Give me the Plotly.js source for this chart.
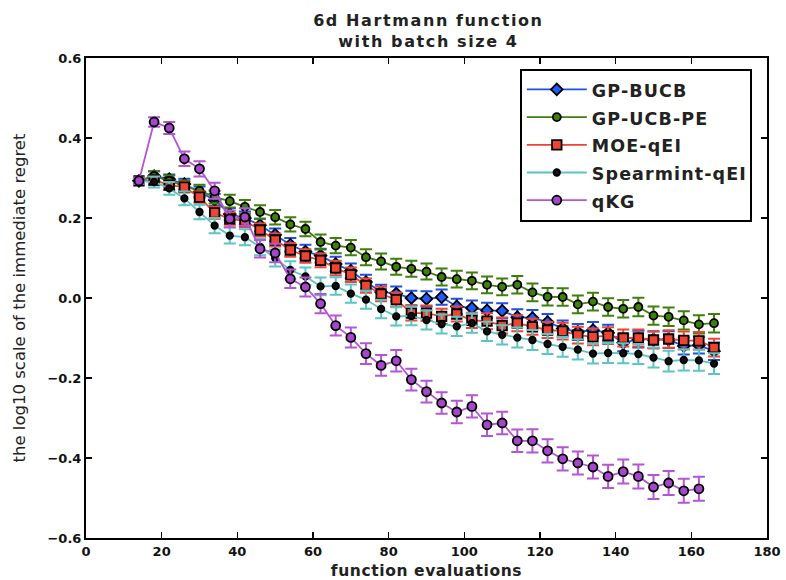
<!DOCTYPE html>
<html>
<head>
<meta charset="utf-8">
<script src="https://cdn.plot.ly/plotly-3.0.1.min.js"></script>
<style>
  html, body { margin: 0; padding: 0; background: #ffffff; }
  #chart { width: 786px; height: 580px; }
  /* wider lettering for the horizontal labels */
  #chart .gtitle { letter-spacing: 1.6px; }
  #chart .xtitle { letter-spacing: 0.6px; }
  #chart .legendtext { font-size: 17.5px !important; letter-spacing: 1.1px; }
</style>
</head>
<body>
<div id="chart"></div>
<script>
// Function evaluations (batch size 4)
const evals = [14, 18, 22, 26, 30, 34, 38, 42, 46, 50, 54, 58, 62, 66, 70, 74, 78, 82, 86, 90,
               94, 98, 102, 106, 110, 114, 118, 122, 126, 130, 134, 138, 142, 146, 150, 154, 158, 162, 166];
const evalsQKG = [14, 18, 22, 26, 30, 34, 38, 42, 46, 50, 54, 58, 62, 66, 70, 74, 78, 82, 86, 90,
                  94, 98, 102, 106, 110, 114, 118, 122, 126, 130, 134, 138, 142, 146, 150, 154, 158, 162];

// log10 immediate regret, mean per method
const gpBucb = [0.293, 0.305, 0.297, 0.285, 0.265, 0.245, 0.210, 0.200, 0.182, 0.158, 0.133, 0.116, 0.106,
                0.085, 0.068, 0.040, 0.015, 0.011, 0.000, -0.002, 0.002, -0.021, -0.025, -0.031, -0.032,
                -0.048, -0.050, -0.060, -0.076, -0.085, -0.080, -0.087, -0.112, -0.103, -0.104, -0.104,
                -0.120, -0.118, -0.133];
const gpUcbPe = [0.293, 0.305, 0.293, 0.280, 0.268, 0.252, 0.242, 0.228, 0.215, 0.202, 0.184, 0.1725, 0.140,
                 0.131, 0.126, 0.102, 0.0915, 0.078, 0.073, 0.066, 0.0525, 0.047, 0.043, 0.033, 0.028,
                 0.033, 0.014, 0.003, 0.0025, -0.016, -0.009, -0.0225, -0.027, -0.0225, -0.044, -0.047,
                 -0.056, -0.066, -0.063];
const moeQei = [0.293, 0.295, 0.282, 0.277, 0.252, 0.213, 0.198, 0.193, 0.170, 0.145, 0.120, 0.105, 0.094,
                0.075, 0.058, 0.031, 0.010, -0.004, -0.0375, -0.038, -0.046, -0.040, -0.056, -0.058, -0.069,
                -0.063, -0.072, -0.080, -0.083, -0.093, -0.097, -0.094, -0.100, -0.100, -0.105, -0.1025,
                -0.106, -0.107, -0.124];
const spearmintQei = [0.293, 0.290, 0.274, 0.249, 0.215, 0.181, 0.156, 0.152, 0.128, 0.100, 0.070, 0.054, 0.029,
                      0.030, 0.011, -0.004, -0.0275, -0.046, -0.045, -0.055, -0.065, -0.071, -0.063, -0.0835,
                      -0.092, -0.099, -0.105, -0.115, -0.122, -0.129, -0.139, -0.1375, -0.138, -0.140, -0.149,
                      -0.158, -0.155, -0.156, -0.164];
const qkg = [0.293, 0.440, 0.425, 0.348, 0.323, 0.268, 0.198, 0.2025, 0.123, 0.1125, 0.048, 0.0275, -0.014,
             -0.069, -0.0985, -0.139, -0.1685, -0.157, -0.204, -0.234, -0.2625, -0.285, -0.271, -0.317,
             -0.3125, -0.357, -0.357, -0.382, -0.402, -0.4125, -0.4225, -0.446, -0.434, -0.446, -0.4725,
             -0.4625, -0.482, -0.477];

// Standard errors
const gpBucbErr = [0.006, 0.012, 0.012, 0.013, 0.014, 0.015, 0.015, 0.016, 0.016, 0.016, 0.017, 0.017, 0.017,
                   0.018, 0.018, 0.018, 0.018, 0.018, 0.018, 0.019, 0.019, 0.019, 0.019, 0.019, 0.019,
                   0.020, 0.020, 0.020, 0.020, 0.020, 0.020, 0.020, 0.021, 0.021, 0.021, 0.021, 0.021, 0.021, 0.022];
const gpUcbPeErr = [0.006, 0.012, 0.013, 0.014, 0.015, 0.016, 0.016, 0.017, 0.017, 0.018, 0.018, 0.018, 0.019,
                    0.019, 0.019, 0.020, 0.020, 0.020, 0.020, 0.020, 0.021, 0.021, 0.021, 0.021, 0.021,
                    0.022, 0.022, 0.022, 0.022, 0.022, 0.022, 0.022, 0.022, 0.023, 0.023, 0.023, 0.023, 0.023, 0.023];
const moeQeiErr = [0.006, 0.012, 0.012, 0.013, 0.014, 0.015, 0.015, 0.016, 0.016, 0.016, 0.017, 0.017, 0.017,
                   0.018, 0.018, 0.018, 0.018, 0.018, 0.019, 0.019, 0.019, 0.019, 0.019, 0.020, 0.020,
                   0.020, 0.020, 0.020, 0.021, 0.021, 0.021, 0.021, 0.021, 0.021, 0.021, 0.022, 0.022, 0.022, 0.022];
const spearmintQeiErr = [0.006, 0.014, 0.016, 0.017, 0.018, 0.019, 0.020, 0.020, 0.021, 0.021, 0.022, 0.022, 0.022,
                         0.022, 0.023, 0.023, 0.023, 0.023, 0.023, 0.024, 0.024, 0.024, 0.024, 0.024, 0.024,
                         0.025, 0.025, 0.025, 0.025, 0.025, 0.025, 0.025, 0.025, 0.025, 0.025, 0.026, 0.026, 0.026, 0.026];
const qkgErr = [0.008, 0.012, 0.015, 0.018, 0.019, 0.020, 0.021, 0.022, 0.022, 0.023, 0.023, 0.024, 0.024,
                0.025, 0.025, 0.026, 0.026, 0.027, 0.027, 0.027, 0.027, 0.028, 0.028, 0.028, 0.028,
                0.028, 0.029, 0.029, 0.029, 0.029, 0.029, 0.029, 0.030, 0.030, 0.030, 0.030, 0.030, 0.030];

const methodNames = ['GP-BUCB', 'GP-UCB-PE', 'MOE-qEI', 'Spearmint-qEI', 'qKG'];

const FONT = 'DejaVu Sans, Verdana, sans-serif';

function series(name, xs, ys, errs, lineColor, barColor, markerColor, symbol, size) {
  return {
    type: 'scatter',
    mode: 'lines+markers',
    name: name,
    x: xs,
    y: ys,
    line: { color: lineColor, width: 1.8 },
    marker: { color: markerColor, symbol: symbol, size: size, line: { color: '#000000', width: 1.8 } },
    error_y: { type: 'data', array: errs, visible: true, color: barColor, thickness: 2, width: 6 }
  };
}

const traces = [
  series(methodNames[0], evals, gpBucb, gpBucbErr, '#1f4fe8', '#1f4fe8', '#1f5cff', 'diamond', 9),
  series(methodNames[1], evals, gpUcbPe, gpUcbPeErr, '#3f7f0c', '#3f7f0c', '#3f7f0c', 'circle', 8),
  series(methodNames[2], evals, moeQei, moeQeiErr, '#ee4433', '#ee4433', '#ee4433', 'square', 9.5),
  series(methodNames[3], evals, spearmintQei, spearmintQeiErr, '#5cc4c4', '#5cc4c4', '#111111', 'circle', 6.5),
  series(methodNames[4], evalsQKG, qkg, qkgErr, '#b455d4', '#b455d4', '#a447c8', 'circle', 9)
];

const axisCommon = {
  showgrid: false,
  zeroline: false,
  showline: true,
  linecolor: '#000000',
  linewidth: 2,
  mirror: 'ticks',
  ticks: 'inside',
  ticklen: 6,
  tickwidth: 1.5,
  tickcolor: '#000000',
  tickfont: { family: FONT, size: 13, color: '#111111', weight: 'bold' }
};

const layout = {
  width: 786,
  height: 580,
  paper_bgcolor: '#ffffff',
  plot_bgcolor: '#ffffff',
  margin: { l: 86, r: 19, t: 58, b: 42 },
  showlegend: true,
  title: {
    text: '6d Hartmann function<br>with batch size 4',
    font: { family: FONT, size: 16, color: '#222222', weight: 'bold' },
    x: 0.545, xanchor: 'center', xref: 'container',
    y: 0.955, yanchor: 'top', yref: 'container'
  },
  xaxis: Object.assign({}, axisCommon, {
    range: [0, 180],
    dtick: 20,
    tick0: 0,
    title: { text: 'function evaluations', font: { family: FONT, size: 15.5, color: '#222222', weight: 'bold' }, standoff: 9 }
  }),
  yaxis: Object.assign({}, axisCommon, {
    range: [-0.6, 0.6],
    dtick: 0.2,
    tick0: 0,
    tickformat: '.1f',
    title: { text: 'the log10 scale of the immediate regret', font: { family: FONT, size: 16.5, color: '#222222' }, standoff: 18 }
  }),
  legend: {
    x: 0.637, y: 0.978, xanchor: 'left', yanchor: 'top',
    bgcolor: '#ffffff',
    bordercolor: '#000000',
    borderwidth: 2,
    font: { family: FONT, size: 19, color: '#222222', weight: 'bold' },
    tracegroupgap: 0,
    itemwidth: 60
  }
};

Plotly.newPlot('chart', traces, layout, { displayModeBar: false, staticPlot: true });
</script>
</body>
</html>
